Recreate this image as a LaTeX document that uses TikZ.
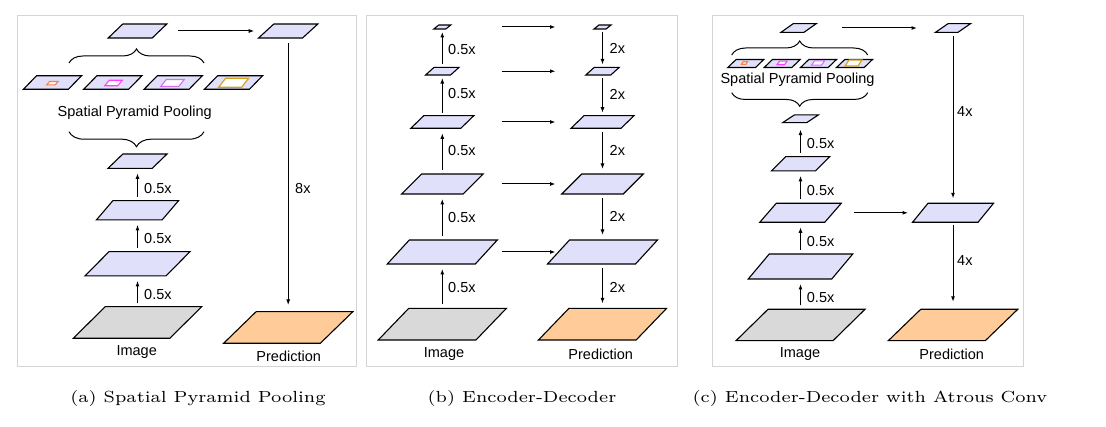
\documentclass[tikz,border=0pt]{standalone}
\usepackage{fontspec}
\newfontfamily\arialf{Liberation Sans}
\usetikzlibrary{calc,arrows.meta,decorations.pathreplacing}
\definecolor{lav}{HTML}{E0E0FA}
\definecolor{imggray}{HTML}{D9D9D9}
\definecolor{predor}{HTML}{FFCC99}
\definecolor{framec}{HTML}{D4D4D4}
\definecolor{cOr}{HTML}{FF7F3F}
\definecolor{cMa}{HTML}{FF3FFF}
\definecolor{cVi}{HTML}{D96BFF}
\definecolor{cGo}{HTML}{D4A017}
\tikzset{
  pgb/.style={draw=black,line width=1.1pt,fill=lav,line join=miter},
  pgi/.style={draw=black,line width=1.1pt,fill=imggray,line join=miter},
  pgp/.style={draw=black,line width=1.1pt,fill=predor,line join=miter},
  inr/.style={draw=#1,line width=1.1pt,fill=white},
  arr/.style={-{Latex[length=5.5pt,width=4pt]},line width=1pt,shorten <=4pt,shorten >=5pt},
  harr/.style={-{Latex[length=5.5pt,width=4pt]},line width=1pt},
  lab/.style={font=\arialf\fontsize{14.5}{16}\selectfont,inner sep=0pt},
  brc/.style={line width=1pt,decorate,decoration={brace,amplitude=#1pt}},
  panel/.style={draw=framec,line width=1pt},
  captxt/.style={inner sep=0pt}
}
\newcommand\pg[7]{%
  \node[inner sep=0pt,outer sep=0pt,minimum width=#4pt,minimum height=#5pt] (#1) at (#2,#3) {};
  \draw[#7] ($(#1.south west)+(-#6/2,0)$) -- ($(#1.south east)+(-#6/2,0)$) -- ($(#1.north east)+(#6/2,0)$) -- ($(#1.north west)+(#6/2,0)$) -- cycle;
}
\newcommand\captext[1]{\scalebox{2.58}[2.3]{\fontsize{7}{8}\selectfont #1}}
\begin{document}
\begin{tikzpicture}[x=1pt,y=-1pt]
\useasboundingbox (0,0) rectangle (1106,427);
\fill[white] (0,0) rectangle (1106,427);
% panel frames
\draw[panel] (17,16) rectangle (356,367);
\draw[panel] (366,16) rectangle (677,367);
\draw[panel] (712,16) rectangle (1023,367);

% ---------- panel (a)
\pg{atop}{137.5}{31}{44}{14}{14.6}{pgb}
\pg{aout}{288.2}{31}{44}{14}{15.3}{pgb}
\pg{as1}{52.5}{82.5}{45}{13.5}{13.3}{pgb}
\pg{as2}{112.8}{82.5}{45}{13.5}{13.3}{pgb}
\pg{as3}{173.2}{82.5}{45}{13.5}{13.3}{pgb}
\pg{as4}{233.5}{82.5}{45}{13.5}{13.3}{pgb}
\pg{ai1}{52.4}{83.2}{8.5}{3.4}{3}{inr=cOr}
\pg{ai2}{113.5}{83}{13}{5.5}{4.5}{inr=cMa}
\pg{ai3}{172.5}{83}{18}{7}{5.5}{inr=cVi}
\pg{ai4}{233.6}{82.8}{23}{9}{7}{inr=cGo}
\draw[brc=14] (69,63) -- (204,63);
\node[lab] (aspp) at (134.7,112.3) {Spatial Pyramid Pooling};
\draw[brc=15,decoration={mirror}] (69,131.7) -- (204,131.7);
\pg{a3}{137.5}{161.2}{44.2}{14.3}{14.8}{pgb}
\pg{a2}{137.5}{210.3}{65.7}{19.3}{16.5}{pgb}
\pg{a1}{137.5}{263.8}{81}{24.3}{24}{pgb}
\pg{aimg}{137.5}{322.5}{96.5}{31.6}{32}{pgi}
\pg{apred}{288.2}{327.5}{96.7}{31.6}{32.5}{pgp}
\draw[arr] (aimg) -- (a1);
\draw[arr] (a1) -- (a2);
\draw[arr] (a2) -- (a3);
\draw[harr,shorten <=18pt,shorten >=12pt] (atop) -- (aout);
\draw[arr,shorten <=5.4pt,shorten >=6.7pt] (aout) -- (apred);
\node[lab,anchor=west] (la1) at (144,294.3) {0.5x};
\node[lab,anchor=west] (la2) at (144,239) {0.5x};
\node[lab,anchor=west] (la3) at (144,188.3) {0.5x};
\node[lab,anchor=west] (la4) at (295,189) {8x};
\node[lab] (laimg) at (136.7,352.3) {Image};
\node[lab] (lapred) at (288.7,356.7) {Prediction};

% ---------- panel (b)
\pg{b5}{442.3}{27}{12}{4}{5}{pgb}
\pg{b4}{442.3}{71.2}{25}{7.7}{8.5}{pgb}
\pg{b3}{442.3}{122}{50}{12.6}{13}{pgb}
\pg{b2}{442.3}{184}{61.5}{20}{20}{pgb}
\pg{b1}{442.3}{252}{88}{24}{22}{pgb}
\pg{bimg}{442.3}{324.2}{97.7}{31.7}{30.5}{pgi}
\pg{b5r}{602.5}{27}{12}{4}{5}{pgb}
\pg{b4r}{602.5}{71.2}{25}{7.7}{8.5}{pgb}
\pg{b3r}{602.5}{122}{50}{12.6}{13}{pgb}
\pg{b2r}{602.5}{184}{61.5}{20}{20}{pgb}
\pg{b1r}{602.5}{252}{88}{24}{22}{pgb}
\pg{bpred}{602.5}{324.2}{97.7}{31.7}{30.5}{pgp}
\draw[arr] (bimg) -- (b1);
\draw[arr] (b1) -- (b2);
\draw[arr] (b2) -- (b3);
\draw[arr,shorten <=3pt,shorten >=3pt] (b3) -- (b4);
\draw[arr,shorten <=3pt,shorten >=3pt] (b4) -- (b5);
\draw[arr,shorten <=3pt,shorten >=3pt] (b5r) -- (b4r);
\draw[arr,shorten <=3pt,shorten >=3pt] (b4r) -- (b3r);
\draw[arr] (b3r) -- (b2r);
\draw[arr] (b2r) -- (b1r);
\draw[arr] (b1r) -- (bpred);
\foreach \r in {b5,b4,b3,b2,b1}{
  \draw[harr,shorten <=59.4pt,shorten >=47pt] (\r.center) -- (\r r.center);
}
\node[lab,anchor=west] (lb1) at (448,287.7) {0.5x};
\node[lab,anchor=west] (lb2) at (448,217.3) {0.5x};
\node[lab,anchor=west] (lb3) at (448,150.7) {0.5x};
\node[lab,anchor=west] (lb4) at (448,94) {0.5x};
\node[lab,anchor=west] (lb5) at (448,50) {0.5x};
\node[lab,anchor=west] (lr1) at (609.5,287) {2x};
\node[lab,anchor=west] (lr2) at (609.5,216.7) {2x};
\node[lab,anchor=west] (lr3) at (609.5,150.7) {2x};
\node[lab,anchor=west] (lr4) at (609.5,94) {2x};
\node[lab,anchor=west] (lr5) at (609.5,48) {2x};
\node[lab] (lbimg) at (444,354) {Image};
\node[lab] (lbpred) at (600.7,354) {Prediction};

% ---------- panel (c)
\pg{ctop}{798.6}{28}{23}{8.7}{12.3}{pgb}
\pg{cout}{953}{28}{22.5}{8.7}{12.6}{pgb}
\pg{cs1}{745.8}{63.5}{27.7}{8}{8.3}{pgb}
\pg{cs2}{782.2}{63.5}{27.7}{8}{8.3}{pgb}
\pg{cs3}{818.5}{63.5}{27.7}{8}{8.3}{pgb}
\pg{cs4}{854.5}{63.5}{27.7}{8}{8.3}{pgb}
\pg{ci1}{744.5}{63}{4.5}{2.5}{1.5}{inr=cOr}
\pg{ci2}{782}{63}{7.5}{3.6}{2.5}{inr=cMa}
\pg{ci3}{818}{63}{10}{4.3}{3}{inr=cVi}
\pg{ci4}{853.5}{63}{13}{6}{4}{inr=cGo}
\draw[brc=14] (731.7,55) -- (867.7,55);
\node[lab] (cspp) at (797.5,80) {Spatial Pyramid Pooling};
\draw[brc=13.5,decoration={mirror}] (731.7,92.7) -- (867.7,92.7);
\pg{c3}{800.5}{118.8}{24}{7.7}{11.7}{pgb}
\pg{c2}{800.5}{163.8}{44}{14.3}{14.3}{pgb}
\pg{c1}{800.5}{212.8}{65}{19}{16.5}{pgb}
\pg{c0}{800.5}{266.5}{83.5}{25}{21}{pgb}
\pg{cimg}{800.5}{325}{97}{31.4}{32}{pgi}
\pg{cdec}{953}{212.8}{65.5}{19}{15.5}{pgb}
\pg{cpred}{953}{325}{97}{31.4}{32.5}{pgp}
\draw[arr] (cimg) -- (c0);
\draw[arr] (c0) -- (c1);
\draw[arr] (c1) -- (c2);
\draw[arr,shorten >=7pt] (c2) -- (c3);
\draw[harr,shorten <=43pt,shorten >=36pt] (ctop.center) -- (cout.center);
\draw[harr,shorten <=53pt,shorten >=45pt] (c1.center) -- (cdec.center);
\draw[arr] (cout) -- (cdec);
\draw[arr,shorten <=3pt,shorten >=7.5pt] (cdec) -- (cpred);
\node[lab,anchor=west] (lc1) at (806.7,297.3) {0.5x};
\node[lab,anchor=west] (lc2) at (806.7,241.7) {0.5x};
\node[lab,anchor=west] (lc3) at (806.7,190.7) {0.5x};
\node[lab,anchor=west] (lc4) at (806.7,144) {0.5x};
\node[lab,anchor=west] (lc5) at (957,111.7) {4x};
\node[lab,anchor=west] (lc6) at (957,261) {4x};
\node[lab] (lcimg) at (800,354.3) {Image};
\node[lab] (lcpred) at (951.7,354.3) {Prediction};

% ---------- captions
\node[captxt] (capa) at (198,398) {\captext{(a) Spatial Pyramid Pooling}};
\node[captxt] (capb) at (522,398) {\captext{(b) Encoder-Decoder}};
\node[captxt] (capc) at (870,398) {\captext{(c) Encoder-Decoder with Atrous Conv}};
\end{tikzpicture}
\end{document}
